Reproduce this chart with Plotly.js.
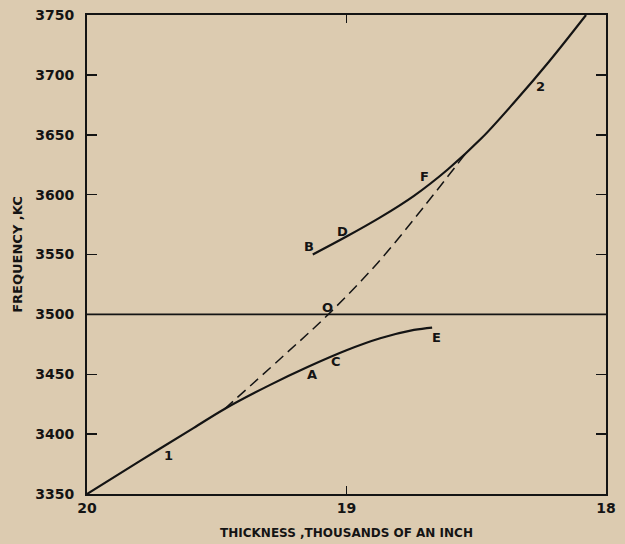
<!DOCTYPE html>
<html>
<head>
<meta charset="utf-8">
<script src="https://cdn.plot.ly/plotly-3.0.1.min.js"></script>
<style>html,body{margin:0;padding:0;background:#dccbb0;}#chart{width:625px;height:544px;}</style>
</head>
<body>
<div id="chart"></div>
<script>
// Curve 1 continuing into lower branch A-C-E
const lowerX = [20, 19.8, 19.59, 19.47, 19.3, 19.15, 19.0, 18.87, 18.74, 18.67];
const lowerY = [3350, 3377, 3405, 3421, 3440.5, 3456, 3470, 3480, 3487, 3489];
// Upper branch B-D-F continuing into curve 2
const upperX = [19.13, 19.0, 18.87, 18.74, 18.61, 18.48, 18.35, 18.22, 18.077];
const upperY = [3550, 3565, 3581, 3599, 3621, 3647, 3678, 3711, 3750];
// Dashed uncoupled curve through O
const dashX = [19.47, 19.255, 19.07, 18.88, 18.705, 18.535];
const dashY = [3421, 3463, 3500, 3543, 3589, 3636];
// Horizontal reference at 3500 kc
const refX = [20, 18];
const refY = [3500, 3500];
// Point labels
const labelText = ["1", "A", "C", "E", "O", "B", "D", "F", "2"];
const labelX = [19.686, 19.132, 19.04, 18.655, 19.074, 19.143, 19.017, 18.70, 18.254];
const labelY = [3382, 3450, 3461, 3481, 3506, 3557, 3569, 3615, 3690];
const xTicks = [20, 19, 18];
const xTickText = ["20", "19", "18"];

const bg = '#dccbb0';
const ink = '#141414';
const fnt = 'DejaVu Sans, sans-serif';

const traces = [
  {x: refX, y: refY, mode: 'lines', line: {color: ink, width: 1.6}, hoverinfo: 'skip'},
  {x: lowerX, y: lowerY, mode: 'lines', line: {color: ink, width: 2.2, shape: 'spline', smoothing: 1}},
  {x: upperX, y: upperY, mode: 'lines', line: {color: ink, width: 2.2, shape: 'spline', smoothing: 1}},
  {x: dashX, y: dashY, mode: 'lines', line: {color: ink, width: 1.5, dash: '11px,6px', shape: 'spline', smoothing: 1}}
];

const annotations = labelText.map((t, i) => ({
  x: labelX[i], y: labelY[i], xref: 'x', yref: 'y', text: t, showarrow: false,
  font: {family: fnt, size: 13, color: ink, weight: 'bold'}
}));

const layout = {
  width: 625, height: 544,
  paper_bgcolor: bg, plot_bgcolor: bg,
  margin: {l: 87, r: 19, t: 15, b: 50},
  showlegend: false,
  xaxis: {
    range: [20, 18], tickvals: xTicks, ticktext: xTickText,
    showgrid: false, zeroline: false, showline: true, linecolor: ink, linewidth: 2,
    mirror: 'ticks', ticks: 'inside', ticklen: 8, tickwidth: 1.5, tickcolor: ink,
    tickfont: {family: fnt, size: 14, color: ink, weight: 'bold'},
    title: {text: 'THICKNESS ,THOUSANDS OF AN INCH', standoff: 14,
            font: {family: fnt, size: 12, color: ink, weight: 'bold'}}
  },
  yaxis: {
    range: [3350, 3750], dtick: 50, tick0: 3350,
    showgrid: false, zeroline: false, showline: true, linecolor: ink, linewidth: 2,
    mirror: 'ticks', ticks: 'inside', ticklen: 10, tickwidth: 1.5, tickcolor: ink,
    ticklabelstandoff: 8,
    tickfont: {family: fnt, size: 14, color: ink, weight: 'bold'},
    title: {text: 'FREQUENCY ,KC', standoff: 10,
            font: {family: fnt, size: 13, color: ink, weight: 'bold'}}
  },
  annotations: annotations
};

Plotly.newPlot('chart', traces, layout, {staticPlot: true, displayModeBar: false});
</script>
</body>
</html>
